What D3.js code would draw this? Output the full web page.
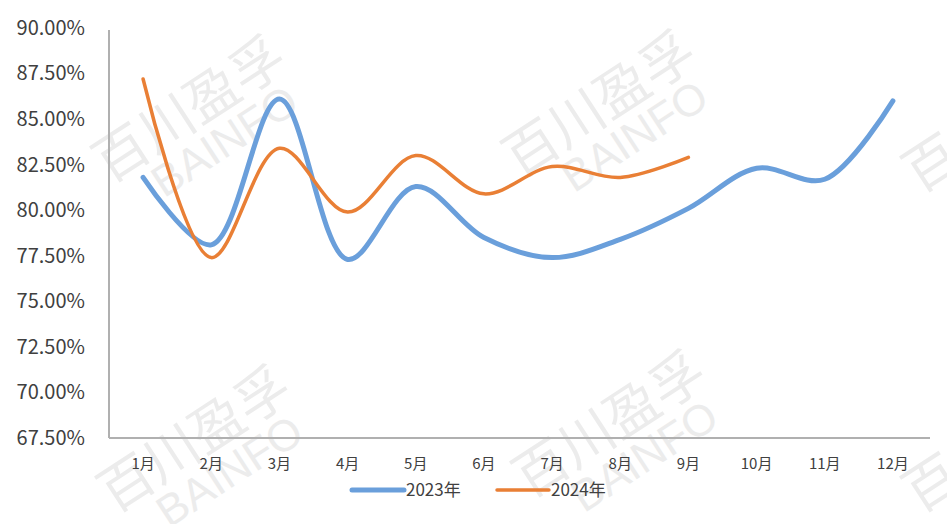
<!DOCTYPE html>
<html><head><meta charset="utf-8">
<script src="https://cdn.jsdelivr.net/npm/d3@7"></script>
<style>body{margin:0;background:#fff;}svg{display:block;}</style>
</head><body>
<svg id="c" width="947" height="524"></svg>
<script>
const months = ["1月","2月","3月","4月","5月","6月","7月","8月","9月","10月","11月","12月"];
const yTicks = [67.5,70,72.5,75,77.5,80,82.5,85,87.5,90];
const s2023 = [81.8,78.1,86.1,77.3,81.3,78.5,77.4,78.4,80.1,82.3,81.7,86.0];
const s2024 = [87.2,77.4,83.4,79.9,83.0,80.9,82.4,81.8,82.9];
const seriesNames = ["2023年","2024年"];

const svg = d3.select("#c");
const font = "'Noto Sans CJK SC','Noto Sans',sans-serif";
const x = d3.scaleBand().domain(months).range([109,927]);
const y = d3.scaleLinear().domain([67.5,90]).range([438,28]);

// watermarks
const wm = [[190,110],[600,105],[1000,120],[195,440],[610,425],[1000,440]];
wm.forEach(([cx,cy])=>{
  const g = svg.append("g").attr("transform",`translate(${cx},${cy}) rotate(-33)`).attr("fill","#ececec").attr("font-family",font);
  g.append("text").attr("text-anchor","middle").attr("y",18).attr("font-size",54).text("百川盈孚");
  g.append("text").attr("text-anchor","middle").attr("x",12).attr("y",60).attr("font-size",44).attr("font-family","'Liberation Sans',sans-serif").text("BAINFO");
});

// axes
const yAxis = svg.append("g").attr("transform","translate(109,0)").call(d3.axisLeft(y).tickValues(yTicks).tickSize(0).tickPadding(24).tickFormat(d=>d.toFixed(2)+"%"));
yAxis.select(".domain").attr("stroke","#b0b0b0").attr("stroke-width",2).attr("d","M0,30V438");
yAxis.selectAll("text").attr("font-family",font).attr("font-size",20).attr("fill","#404040");

const xAxis = svg.append("g").attr("transform","translate(0,438)").call(d3.axisBottom(x).tickSize(0).tickPadding(20));
xAxis.select(".domain").attr("stroke","#b0b0b0").attr("stroke-width",2).attr("d","M109,0H930");
xAxis.selectAll("text").attr("font-family",font).attr("font-size",15).attr("fill","#404040");

const line = d3.line().x((d,i)=>x(months[i])+x.bandwidth()/2).y(d=>y(d)).curve(d3.curveCatmullRom.alpha(0.5));
svg.append("path").datum(s2023).attr("d",line).attr("fill","none").attr("stroke","#6A9FDB").attr("stroke-width",5).attr("stroke-linecap","round");
svg.append("path").datum(s2024).attr("d",line).attr("fill","none").attr("stroke","#E97F35").attr("stroke-width",3.5).attr("stroke-linecap","round");

// legend
const leg = [{c:"#6A9FDB",w:5,x:352},{c:"#E97F35",w:3.5,x:497}];
leg.forEach((l,i)=>{
  svg.append("line").attr("x1",l.x).attr("x2",l.x+52).attr("y1",490).attr("y2",490).attr("stroke",l.c).attr("stroke-width",l.w).attr("stroke-linecap","round");
  svg.append("text").attr("x",l.x+54).attr("y",496).attr("font-family",font).attr("font-size",17).attr("fill","#404040").text(seriesNames[i]);
});
</script>
</body></html>
